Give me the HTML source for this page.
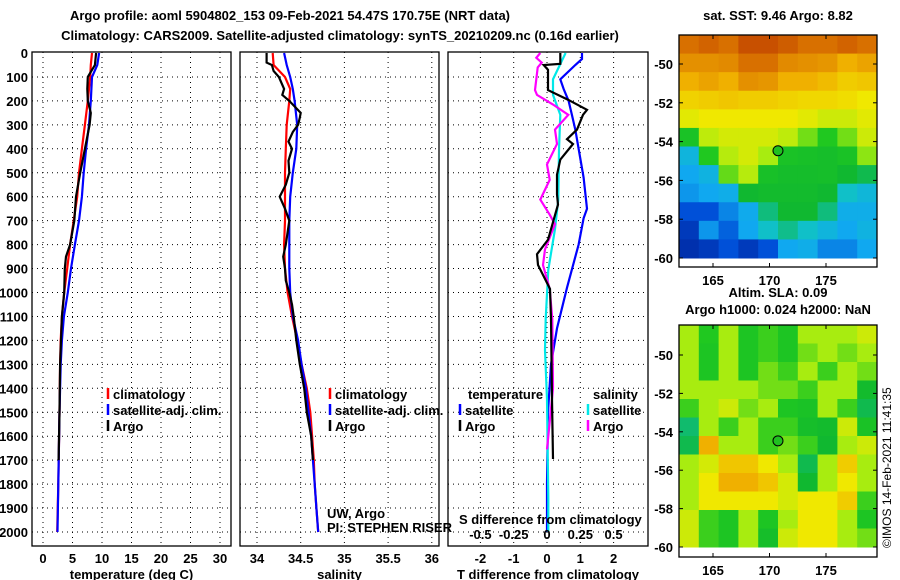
<!DOCTYPE html>
<html><head><meta charset="utf-8"><style>
body{margin:0;background:#fff;}
svg{display:block;font-family:"Liberation Sans",sans-serif;}
.b{font-weight:bold;font-size:13px;}
</style></head><body>
<svg id="fig" width="900" height="580" viewBox="0 0 900 580">
<text class="b" x="290" y="20" text-anchor="middle">Argo profile: aoml 5904802_153 09-Feb-2021 54.47S 170.75E (NRT data)</text>
<text class="b" x="340" y="40" text-anchor="middle">Climatology: CARS2009. Satellite-adjusted climatology: synTS_20210209.nc (0.16d earlier)</text>
<g id="g"></g>
<text class="b" x="778" y="20" text-anchor="middle">sat. SST: 9.46 Argo: 8.82</text>
<text class="b" x="778" y="297" text-anchor="middle">Altim. SLA: 0.09</text>
<text class="b" x="778" y="314" text-anchor="middle">Argo h1000: 0.024 h2000: NaN</text>
<text x="891" y="548" font-size="12" transform="rotate(-90 891 548)">©IMOS 14-Feb-2021 11:41:35</text>
</svg>
<script>
// ---------- profile data ----------
const tDepth=[0,50,100,200,300,400,500,600,700,800,900,1000,1100,1200,1300,1500,1800,2000];
const tClim=[8.3,8.1,8.0,7.6,7.1,6.6,6.1,5.8,5.2,4.6,4.1,3.6,3.2,3.0,2.9,2.8,2.6,2.4];
const tSat=[9.5,9.2,8.3,8.1,7.8,7.3,6.9,6.6,6.1,5.4,4.75,4.2,3.55,3.2,3.0,2.8,2.6,2.45];
const argoTDepth=[0,50,100,150,200,250,300,400,500,600,700,800,850,900,1000,1100,1200,1300,1500,1700];
const argoT=[9.0,8.8,7.6,7.5,7.6,8.1,7.9,7.1,6.3,5.6,5.3,4.6,3.9,3.7,3.6,3.2,3.05,2.9,2.8,2.65];
const sDepth=[0,50,100,150,200,300,400,500,600,700,800,900,1000,1100,1200,1300,1400,1500,1600,1700,1800,1900,2000];
const sClim=[34.18,34.19,34.32,34.38,34.37,34.34,34.33,34.32,34.32,34.32,34.31,34.32,34.35,34.40,34.46,34.51,34.57,34.61,34.63,34.65,34.66,34.68,34.70];
const sSat=[34.31,34.34,34.38,34.41,34.43,34.46,34.45,34.41,34.38,34.37,34.37,34.37,34.38,34.41,34.47,34.51,34.56,34.59,34.62,34.64,34.66,34.68,34.70];
const argoSDepth=[0,40,50,75,100,150,175,200,250,270,300,330,370,400,450,500,550,600,650,700,800,850,900,950,1000,1050,1100,1200,1300,1400,1500,1600,1700];
const argoS=[34.11,34.11,34.17,34.19,34.25,34.31,34.29,34.37,34.50,34.49,34.47,34.41,34.36,34.40,34.36,34.37,34.33,34.26,34.32,34.37,34.33,34.30,34.32,34.33,34.37,34.40,34.42,34.45,34.49,34.54,34.57,34.62,34.64];
const dTDepth=[0,25,50,110,150,200,260,320,520,650,690,800,980,1150,1300,1500,1800,2000];
const dTSat=[1.05,1.05,0.85,0.4,0.5,0.65,0.75,0.85,1.1,1.2,1.1,0.95,0.6,0.3,0.12,0.03,0.0,0.0];
const dTArgoDepth=[0,45,50,70,155,195,237,258,320,360,380,445,508,590,633,780,840,885,985,1110,1445,1695];
const dTArgo=[0.4,0.4,-0.1,0.03,0.03,0.63,1.2,1.08,0.9,0.6,0.78,0.4,0.3,0.3,0.33,0.03,-0.3,-0.27,0.09,0.12,0.15,0.18];
const dSArgoDepth=[0,20,40,60,155,175,215,258,320,380,465,530,612,675,715,820,885,985,1110,1400,1655];
const dSArgo=[-0.05,-0.08,-0.04,-0.07,-0.09,-0.075,0.045,0.16,0.06,0.075,0.0,0.02,-0.05,0.02,0.06,-0.015,-0.03,0.02,0.04,0.045,0.0];
const dSSatDepth=[0,110,175,258,405,612,735,905,1110,1240,1445,1860,2000];
const dSSat=[0.14,0.045,0.045,0.1,0.09,0.085,0.06,0.01,-0.01,-0.015,0.0,0.01,0.01];
// ---------- map data (value on palette scale 0..10) ----------
const sstGrid=[
[9,9.2,9,9.5,9.5,9.3,9,9,9.2,9],[8.5,8.5,8.6,9,9,8.6,8.5,8.4,8,8.2],[8,8.2,8,8.5,8.4,8,8,7.8,7.5,7.6],
[7.4,7.5,7.6,7.5,7.5,7.4,7.3,7.3,7.2,7],[6.8,7,7,7,7,7,6.8,6.5,6.5,6.8],[4.6,6.3,6.6,6.6,6.6,6.3,5.6,5,5.6,6.5],
[2.5,5,6.2,6.6,6,4.6,4.5,4.4,4.6,5.8],[2,2.4,5.5,6.2,4.5,4.3,4.3,4.4,4,3.8],[1.8,2,2.2,4,4.2,4.2,4.2,4,3,2.6],
[1,1,1.6,2.1,3.5,4,4,3.5,2.2,2.2],[0.6,1.8,1.2,2,3,3.4,3,2.5,2,2.4],[0.4,0.6,1,0.6,1,2,2.2,1.6,1.6,2]];
const slaGrid=[
[6,5,6,4.8,5.2,4.8,6,6,6,6.5],[6,4.8,6,4.8,5.2,4.8,5.6,6,5.6,6],[6,4.8,6,4.8,5.6,5.2,6,5.2,6,5.6],
[6,6,6,6,5.6,5.6,5.2,6,6,4.2],[5.2,6,6.5,5.6,6,4.8,4.6,6,5.2,3.8],[3.6,6,5.2,6,5.2,5.2,4.4,4.2,6.5,4.6],
[3.8,8,6,6,5.2,5.6,5.2,4,6,6.5],[6,6.6,7.6,7.6,7,6,3.8,6,7.5,6],[6,7,8,8,7.6,6.6,4,6,7,6],
[6,7,7,7,7,6.6,7,7,7.5,5.2],[6.5,5.2,4.8,6,4.8,6,7,7,6,4.8],[6.5,5.2,4.8,6,4.4,6.5,7,7,6,5.6]];
const palette=["#001a90","#0050d8","#10a8f0","#10c0c8","#10b830","#20c820","#a8ec10","#f0e800","#f0b000","#d87000","#b83000"];

const NS="http://www.w3.org/2000/svg";
const G=document.getElementById('g');
function mk(t,a,p){const e=document.createElementNS(NS,t);for(const k in a)e.setAttribute(k,a[k]);(p||G).appendChild(e);return e;}
function colAt(v){v=Math.max(0,Math.min(10,v));const i=Math.min(9,Math.floor(v)),f=v-i;
  const a=palette[i],b=palette[i+1];const c=k=>Math.round(parseInt(a.substr(k,2),16)*(1-f)+parseInt(b.substr(k,2),16)*f);
  return 'rgb('+c(1)+','+c(3)+','+c(5)+')';}
const Y0=53, PY=0.2395;
const yD=d=>Y0+d*PY;
const PT=52, PB=546;
function panel(x0,x1,name,xticks,xfn,xlabs,title){
  const g=mk('g',{});
  
  
  for(let d=100;d<=2000;d+=100){mk('line',{x1:x0,x2:x1,y1:yD(d),y2:yD(d),stroke:'#000','stroke-dasharray':'1,4','stroke-width':1},g);}
  xticks.forEach((v,i)=>{const x=xfn(v);mk('line',{x1:x,x2:x,y1:PT,y2:PB,stroke:'#000','stroke-dasharray':'1,4'},g);
    const t=mk('text',{x:x,y:563,'text-anchor':'middle',class:'b'},g);t.textContent=xlabs[i];
    
    });
  mk('rect',{x:x0,y:PT,width:x1-x0,height:PB-PT,fill:'none',stroke:'#000','stroke-width':1.3},g);
  const t=mk('text',{x:(x0+x1)/2,y:579,'text-anchor':'middle',class:'b'},g);t.textContent=title;
  
  
  return g;
}
function line(depths,vals,xfn,col,name,w){
  const pts=depths.map((d,i)=>xfn(vals[i]).toFixed(1)+','+yD(d).toFixed(1)).join(' ');
  const p=mk('polyline',{points:pts,fill:'none',stroke:col,'stroke-width':w||2.2});
  
  
}
function txt(x,y,s,name,cls,extra){const t=mk('text',Object.assign({x:x,y:y,class:cls||'b'},extra||{}));t.textContent=s;
  
  return t;}
function leg(x,y,col,s,name){const b=mk('line',{x1:x,x2:x,y1:y-11,y2:y,stroke:col,'stroke-width':2.5});
  
  
  txt(x+5,y,s,name,'b');}
for(let d=0;d<=2000;d+=100){txt(28,yD(d)+5,String(d),'y-tick-label','b',{'text-anchor':'end'});}
// panel 1
const xT=v=>43+v*5.9;
panel(32,231,'temperature-panel',[0,5,10,15,20,25,30],xT,['0','5','10','15','20','25','30'],'temperature (deg C)');
line(tDepth,tClim,xT,'#f00','temp-climatology-line');
line(tDepth,tSat,xT,'#00f','temp-satellite-line');
line(argoTDepth,argoT,xT,'#000','temp-argo-line');
leg(108,399,'#f00','climatology','legend-climatology');
leg(108,415,'#00f','satellite-adj. clim.','legend-satellite');
leg(108,431,'#000','Argo','legend-argo');
// panel 2
const xS=v=>257+(v-34)*87.4;
panel(240,439,'salinity-panel',[34,34.5,35,35.5,36],xS,['34','34.5','35','35.5','36'],'salinity');
line(sDepth,sClim,xS,'#f00','sal-climatology-line');
line(sDepth,sSat,xS,'#00f','sal-satellite-line');
line(argoSDepth,argoS,xS,'#000','sal-argo-line');
leg(330,399,'#f00','climatology','legend-climatology-2');
leg(330,415,'#00f','satellite-adj. clim.','legend-satellite-2');
leg(330,431,'#000','Argo','legend-argo-2');
txt(327,518,'UW, Argo','data-source-note','',{'font-size':12});
txt(327,532,'PI: STEPHEN RISER','pi-note','',{'font-size':12});
// panel 3
const xdT=v=>547+v*33.3, xdS=v=>547+v*133.2;
panel(448,648,'difference-panel',[-2,-1,0,1,2],xdT,['-2','-1','0','1','2'],'T difference from climatology');
line(dTDepth,dTSat,xdT,'#00f','dT-satellite-line');
line(dSSatDepth,dSSat,xdS,'#00e8e8','dS-satellite-line');
line(dSArgoDepth,dSArgo,xdS,'#f0f','dS-argo-line');
line(dTArgoDepth,dTArgo,xdT,'#000','dT-argo-line');
txt(468,399,'temperature','legend-temperature-header');
txt(593,399,'salinity','legend-salinity-header');
leg(460,415,'#00f','satellite','legend-t-satellite');
leg(460,431,'#000','Argo','legend-t-argo');
leg(588,415,'#00e8e8','satellite','legend-s-satellite');
leg(588,431,'#f0f','Argo','legend-s-argo');
txt(459,524,'S difference from climatology','s-axis-title');
[-0.5,-0.25,0,0.25,0.5].forEach(v=>{txt(xdS(v),539,String(v),'s-tick-label','b',{'text-anchor':'middle'});});
// maps
function map(top,bottomData,grid,name,latY,lonX){
  const g=mk('g',{});
  
  
  const x0=679,x1=877,rows=grid.length,cols=grid[0].length;
  const yTop=top, yBot=latY(-60);
  const cw=(x1-x0)/cols, ch=(yBot-yTop)/rows;
  grid.forEach((r,i)=>r.forEach((v,j)=>{const c=mk('rect',{x:x0+j*cw,y:yTop+i*ch,width:cw+0.5,height:ch+0.5,fill:colAt(v)},g);
    
    }));
  mk('rect',{x:x0,y:top,width:x1-x0,height:bottomData-top,fill:'none',stroke:'#000','stroke-width':1.3},g);
  [-50,-52,-54,-56,-58,-60].forEach(l=>{const y=latY(l);mk('line',{x1:x0,x2:x0+4,y1:y,y2:y,stroke:'#000'},g);mk('line',{x1:x1-4,x2:x1,y1:y,y2:y,stroke:'#000'},g);
    const t=mk('text',{x:673,y:y+5,'text-anchor':'end',class:'b'},g);t.textContent=String(l);
    
    });
  [165,170,175].forEach(l=>{const x=lonX(l);mk('line',{x1:x,x2:x,y1:top,y2:top+4,stroke:'#000'},g);mk('line',{x1:x,x2:x,y1:bottomData-4,y2:bottomData,stroke:'#000'},g);
    const t=mk('text',{x:x,y:bottomData+18,'text-anchor':'middle',class:'b'},g);t.textContent=String(l);
    
    });
  const m=mk('circle',{cx:lonX(170.75),cy:latY(-54.47),r:5,fill:'#20c020',stroke:'#000','stroke-width':1},g);
  
  
}
const lonX=l=>713+(l-165)*11.3;
map(35,267,sstGrid,'sst-map',l=>64+(-50-l)*19.4,lonX);
map(325,557,slaGrid,'sla-map',l=>355+(-50-l)*19.2,lonX);
</script>
</body></html>
